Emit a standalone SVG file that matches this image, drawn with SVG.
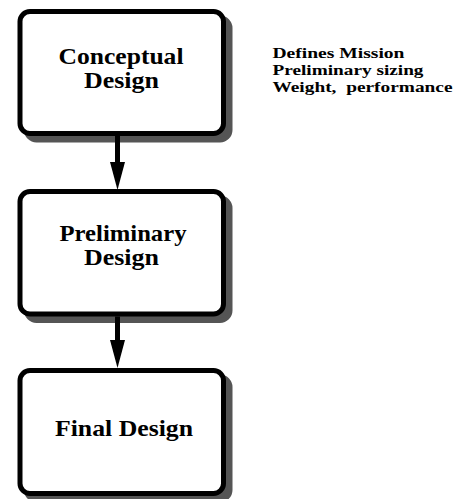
<svg xmlns="http://www.w3.org/2000/svg" width="457" height="499" viewBox="0 0 457 499">
<defs>
<style>
.shadow{fill:#555;stroke:#555;stroke-width:5}
.box{fill:#fff;stroke:#000;stroke-width:5}
.lbl{font-family:"Liberation Serif","Times New Roman",serif;font-weight:bold;font-size:23px;text-anchor:middle;fill:#000}
.note{font-family:"Liberation Serif","Times New Roman",serif;font-weight:bold;font-size:15.5px;fill:#000}
.conn{stroke:#000;stroke-width:5;fill:none}
.head{fill:#000}
</style>
</defs>
<rect width="457" height="499" fill="#fff"/>
<g id="conceptual">
<rect class="shadow" x="26.5" y="18" width="203.5" height="122" rx="10"/>
<rect class="box" x="20" y="11.5" width="203.5" height="122" rx="10"/>
<text class="lbl" x="121" y="63.5" textLength="125" lengthAdjust="spacingAndGlyphs">Conceptual</text>
<text class="lbl" x="121.5" y="87.5" textLength="75" lengthAdjust="spacingAndGlyphs">Design</text>
</g>
<g id="preliminary">
<rect class="shadow" x="26.5" y="198" width="203.5" height="122.5" rx="10"/>
<rect class="box" x="20" y="191.5" width="203.5" height="122.5" rx="10"/>
<text class="lbl" x="123" y="241" textLength="127" lengthAdjust="spacingAndGlyphs">Preliminary</text>
<text class="lbl" x="121.5" y="264.5" textLength="75" lengthAdjust="spacingAndGlyphs">Design</text>
</g>
<g id="final">
<rect class="shadow" x="26.5" y="377" width="203.5" height="123" rx="10"/>
<rect class="box" x="20" y="370.5" width="203.5" height="123" rx="10"/>
<text class="lbl" x="124" y="436" textLength="138" lengthAdjust="spacingAndGlyphs">Final Design</text>
</g>
<g id="notes">
<text class="note" x="272.5" y="58" textLength="132" lengthAdjust="spacingAndGlyphs">Defines Mission</text>
<text class="note" x="272.5" y="75" textLength="151" lengthAdjust="spacingAndGlyphs">Preliminary sizing</text>
<text class="note" x="272.5" y="92" xml:space="preserve" textLength="180" lengthAdjust="spacingAndGlyphs">Weight,  performance</text>
</g>
<g id="connectors">
<line class="conn" x1="117.5" y1="136" x2="117.5" y2="164"/>
<polygon class="head" points="110,162 125,162 117.5,190"/>
<line class="conn" x1="117.5" y1="316.5" x2="117.5" y2="342"/>
<polygon class="head" points="110,340 125,340 117.5,368"/>
</g>
</svg>
